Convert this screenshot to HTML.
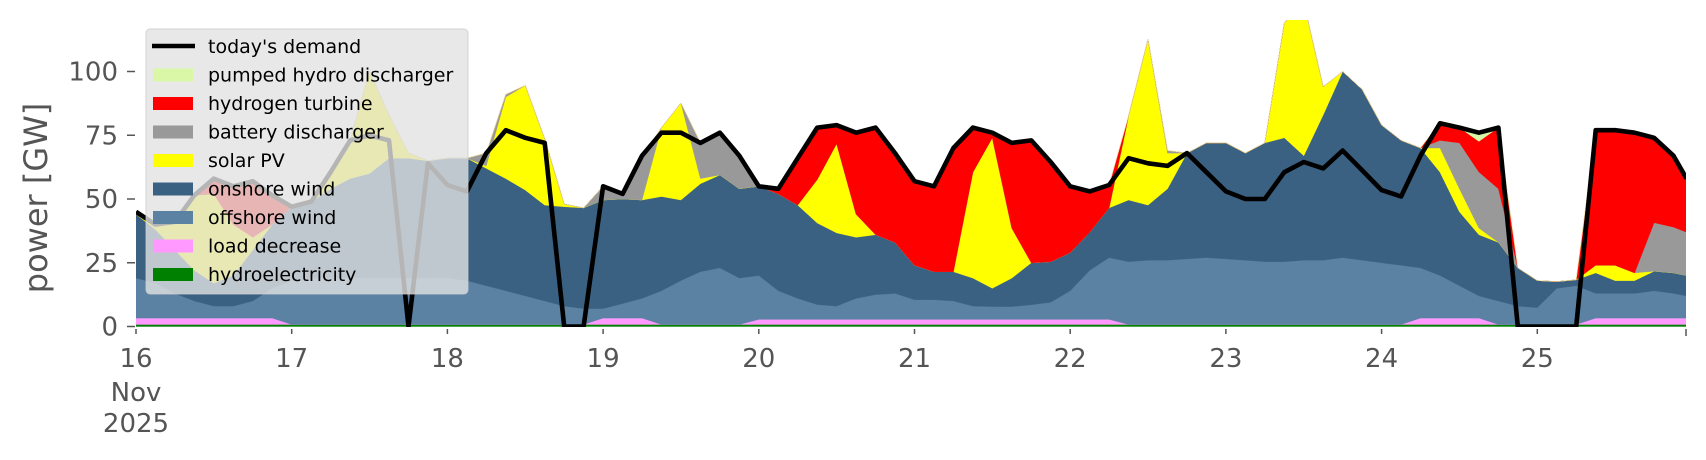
<!DOCTYPE html>
<html><head><meta charset="utf-8"><style>
html,body{margin:0;padding:0;background:#fff;}
svg{display:block;font-family:"DejaVu Sans","Liberation Sans",sans-serif;}
</style></head><body>
<svg id="chart" width="1706" height="460" viewBox="0 0 1706 460" xmlns="http://www.w3.org/2000/svg">
<defs><clipPath id="plotclip"><rect x="136" y="20" width="1550" height="307"/></clipPath></defs>
<g id="areas" clip-path="url(#plotclip)"></g>
<g id="demandg" clip-path="url(#plotclip)"></g>
<g id="yaxis"></g>
<g id="xaxis"></g>
<text x="0" y="0" transform="translate(47,198) rotate(-90)" text-anchor="middle" font-size="32" fill="#555">power [GW]</text>
<g id="legend"></g>
</svg>
<script>
// 3-hourly samples from 16 Nov 2025 00:00 (last sample = 25 Nov 23:00)
const hydro = Array(81).fill(0.8);
const loadDecrease = [2.5,2.5,2.5,2.5,2.5,2.5,2.5,2.5,0,0,0,0,0,0,0,0,0,0,0,0,0,0,0,0,2.5,2.5,2.5,0,0,0,0,0,2,2,2,2,2,2,2,2,2,2,2,2,2,2,2,2,2,2,2,0,0,0,0,0,0,0,0,0,0,0,0,0,0,0,2.5,2.5,2.5,2.5,0,0,0,0,0,2.5,2.5,2.5,2.5,2.5,2.5];
const offshore = [15.7,13.7,9.7,6.7,4.7,4.7,6.7,11.7,17.2,18.2,18.2,18.2,18.2,18.2,18.2,18.2,18.2,17.2,15.2,13.2,11.2,9.2,7.2,6.2,3.7,5.7,7.7,13.2,17.2,20.7,22.2,18.2,17.2,11.2,8.2,5.8,5.2,8.2,9.7,10.2,7.7,7.7,7.2,5.2,5,5,5.7,6.7,11.2,19.2,24.2,24.6,25.2,25.2,25.7,26.2,25.7,25.2,24.6,24.6,25.2,25.2,26.2,25.2,24.2,23.2,19.7,16.7,12.7,8.7,9.2,7.2,6.6,14.2,15.2,9.7,9.7,9.7,10.7,9.7,8.7];
const onshore = [25,21,17,12,9,12,20,25,29,30,35,39,41,47,47,46,47,48,46,44,41.5,37.6,39,39.5,42.6,41,38.6,37,31.6,34.5,36.4,35,35,38,36.6,32,28.7,24,23.5,20,13.5,11,11.5,11,7.2,11.2,16.5,15.9,15,15,19.5,24.2,21.6,28,41.5,45,45.5,42,46.6,48.6,41,57,73,67,54,49,47,40.5,29,24,23,15,10.6,2.6,2.3,8,5,5,7.7,8,8];
const solar = [0,1,11,29.5,35,20,5,0,0,0,6.5,15,40,17,2,0,0,0,1,32,41,26,1,0,0,0,0,27,38,2,0,0,0,0,0,17,35,9,0,0,0,0,0,41.5,59,19.6,0,0,0,0,0,33,65,14,0,0,0,0,0,45,60,11,0,0,0,0,0,9.5,9,2.6,0,0,0,0,0,3,6,3,0,0,0];
const battery = [0,0,0,0,0,0,0,0,0,0,0,0,0,0,0,0,0,0,5,1,0,0,0,0,5.4,2,17,0,0,14,16.6,13,0,0,0,0,0,0,0,0,0,0,0,0,0,0,0,0,0,0,0,0,0,1,0,0,0,0,0,0,0,0,0,0,0,0,0,3,18,22,21,0,0,0,0,0,0,0,19,18,17];
const hydrogen = [0,0,0,0,6,15,22,11.5,0,0,0,0,0,0,0,0,0,0,0,0,0,0,0,0,0,0,0,0,0,0,1,0,0,2,18,20,7,32,42,35,33,33.5,48.5,17.5,2,33.4,48,39,26,16,9,0,0,0,0,0,0,0,0,0,0,0,0,0,0,0,0,7,6,12,24,0,0,0,0,53,53,55,33,28,21];
const pumped = [1,0,0,0,0,0,0,0,0,0,0,0,0,0,0,0,0,0,0,0,0,0,0,0,0,0,0,0,0,0,0,0,0,0,0,0,0,0,0,0,0,0,0,0,0,0,0,0,0,0,0,0,0,0,0,0,0,0,0,0,0,0,0,0,0,0,0,0,0,3.5,0,0,0,0,0,0,0,0,0,0,0];
const demand = [45,40,41,51.5,58,55,57,51.5,47,49,60.5,73,75,73,0,64,55.5,53,68,77,74,72,0,0,55,52,67,76,76,72,76,67,55,54,66,78,79,76,78,68,57,55,70,78,76,72,73,64.5,55,53,55.5,66,64,63,68,60.5,53,50,50,60.5,64.5,62,69,61.3,53.5,51,67,79.7,78,76,78,0,0,0,0,77,77,76,74,67,58];
const dayLabels = ["16","17","18","19","20","21","22","23","24","25"];
const yTicks = [0,25,50,75,100];

const X0=136, DAYW=155.7, Y0=326.5, PXGW=2.55;
function xHours(h){return X0 + h/24*DAYW;}
function yv(v){return Y0 - v*PXGW;}
const hours = demand.map((_,i)=> Math.min(i*3, 239));
const NS="http://www.w3.org/2000/svg";
function mk(tag, attrs, parent){const e=document.createElementNS(NS,tag);for(const k in attrs)e.setAttribute(k,attrs[k]);parent.appendChild(e);return e;}

const series = [
 {n:"hydroelectricity", d:hydro, c:"#008000", key:"hydro-area"},
 {n:"load decrease", d:loadDecrease, c:"#ff99ff", key:"load-decrease-area"},
 {n:"offshore wind", d:offshore, c:"#5b81a3", key:"offshore-wind-area"},
 {n:"onshore wind", d:onshore, c:"#3b6182", key:"onshore-wind-area"},
 {n:"solar PV", d:solar, c:"#ffff00", key:"solar-pv-area"},
 {n:"battery discharger", d:battery, c:"#999999", key:"battery-area"},
 {n:"hydrogen turbine", d:hydrogen, c:"#ff0000", key:"hydrogen-area"},
 {n:"pumped hydro discharger", d:pumped, c:"#d9f7a6", key:"pumped-hydro-area"}
];
const areas=document.getElementById('areas');
let base = hours.map(()=>0);
series.forEach(s=>{
  const top = base.map((b,i)=>b+s.d[i]);
  let pts=[];
  for(let i=0;i<hours.length;i++) pts.push(xHours(hours[i]).toFixed(1)+","+yv(top[i]).toFixed(1));
  for(let i=hours.length-1;i>=0;i--) pts.push(xHours(hours[i]).toFixed(1)+","+yv(base[i]).toFixed(1));
  const p=mk('polygon',{points:pts.join(' '),fill:s.c,stroke:s.c,'stroke-width':0.4},areas);
  
  
  base=top;
});
const dg=document.getElementById('demandg');
const dl=mk('polyline',{points:demand.map((v,i)=>xHours(hours[i]).toFixed(1)+","+yv(v).toFixed(1)).join(' '),fill:'none',stroke:'#000','stroke-width':4.6,'stroke-linejoin':'round'},dg);



const ya=document.getElementById('yaxis');
yTicks.forEach(v=>{
  const t=mk('line',{x1:127,x2:135,y1:yv(v),y2:yv(v),stroke:'#555','stroke-width':1.5},ya);
  
  
  const l=mk('text',{x:118,y:yv(v)+9,'text-anchor':'end','font-size':26,fill:'#555'},ya);
  l.textContent=v;
  
  
});
const xa=document.getElementById('xaxis');
dayLabels.forEach((d,i)=>{
  const x=xHours(i*24);
  const t=mk('line',{x1:x,x2:x,y1:329,y2:334,stroke:'#555','stroke-width':1.5},xa);
  
  
  const l=mk('text',{x:x,y:367,'text-anchor':'middle','font-size':26,fill:'#555'},xa);
  l.textContent=d;
  
  
});
{const t=mk('line',{x1:1686,x2:1686,y1:329,y2:336,stroke:'#555','stroke-width':1.5},xa);

}
[["Nov",401],["2025",432]].forEach(([s,y])=>{
  const l=mk('text',{x:xHours(0),y:y,'text-anchor':'middle','font-size':26,fill:'#555'},xa);
  l.textContent=s;
  
  
});

const lg=document.getElementById('legend');
const box=mk('rect',{x:146,y:29,width:322,height:265,rx:4,fill:'#e2e2e2','fill-opacity':0.8,stroke:'#cccccc','stroke-opacity':0.8},lg);


const entries=[["today's demand",null]].concat(series.slice().reverse().map(s=>[s.n,s.c]));
entries.forEach((e,i)=>{
  const y=47+i*28.5;
  const g=mk('g',{},lg);
  
  
  if(e[1]===null) mk('line',{x1:152,x2:195,y1:y-1,y2:y-1,stroke:'#000','stroke-width':4.6},g);
  else mk('rect',{x:153,y:y-7,width:40,height:13,fill:e[1]},g);
  const t=mk('text',{x:208,y:y+6,'font-size':19,fill:'#000'},g);
  t.textContent=e[0];
});
</script>
</body></html>
